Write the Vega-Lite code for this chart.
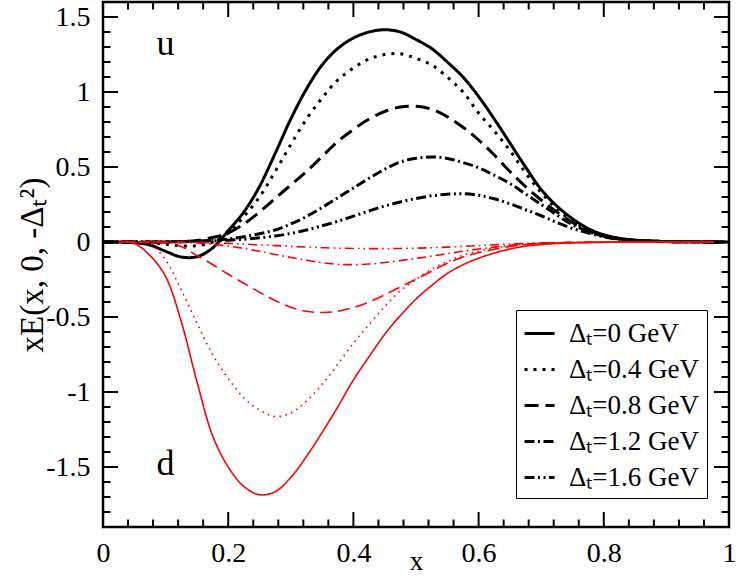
{
"$schema":"https://vega.github.io/schema/vega-lite/v6.json",
"autosize":{"type":"none"},
"padding":{"left":103,"top":2,"right":8,"bottom":51},
"width":626,"height":525,
"config":{"view":{"stroke":"black","strokeWidth":2.5},"font":"Liberation Serif","axis":{"grid":false,"domain":false,"ticks":false,"labelColor":"black","titleColor":"black","labelFont":"Liberation Serif","titleFont":"Liberation Serif","titleFontWeight":"normal"}},
"datasets":{
"curves":[
{"q":"u","D":"0","x":0,"y":0},{"q":"u","D":"0","x":0.025,"y":0},{"q":"u","D":"0","x":0.05,"y":-0.005},{"q":"u","D":"0","x":0.075,"y":-0.02},{"q":"u","D":"0","x":0.1,"y":-0.062},{"q":"u","D":"0","x":0.125,"y":-0.1},{"q":"u","D":"0","x":0.15,"y":-0.098},{"q":"u","D":"0","x":0.175,"y":-0.04},{"q":"u","D":"0","x":0.2,"y":0.075},{"q":"u","D":"0","x":0.225,"y":0.2},{"q":"u","D":"0","x":0.25,"y":0.37},{"q":"u","D":"0","x":0.275,"y":0.59},{"q":"u","D":"0","x":0.3,"y":0.82},{"q":"u","D":"0","x":0.325,"y":1.02},{"q":"u","D":"0","x":0.35,"y":1.18},{"q":"u","D":"0","x":0.375,"y":1.29},{"q":"u","D":"0","x":0.4,"y":1.36},{"q":"u","D":"0","x":0.425,"y":1.4},{"q":"u","D":"0","x":0.45,"y":1.415},{"q":"u","D":"0","x":0.475,"y":1.4},{"q":"u","D":"0","x":0.5,"y":1.35},{"q":"u","D":"0","x":0.525,"y":1.29},{"q":"u","D":"0","x":0.55,"y":1.2},{"q":"u","D":"0","x":0.575,"y":1.1},{"q":"u","D":"0","x":0.6,"y":0.97},{"q":"u","D":"0","x":0.625,"y":0.82},{"q":"u","D":"0","x":0.65,"y":0.66},{"q":"u","D":"0","x":0.675,"y":0.5},{"q":"u","D":"0","x":0.7,"y":0.35},{"q":"u","D":"0","x":0.725,"y":0.24},{"q":"u","D":"0","x":0.75,"y":0.155},{"q":"u","D":"0","x":0.775,"y":0.09},{"q":"u","D":"0","x":0.8,"y":0.048},{"q":"u","D":"0","x":0.825,"y":0.025},{"q":"u","D":"0","x":0.85,"y":0.012},{"q":"u","D":"0","x":0.9,"y":0.003},{"q":"u","D":"0","x":0.95,"y":0.001},{"q":"u","D":"0","x":1,"y":0},
{"q":"u","D":"0.4","x":0,"y":0},{"q":"u","D":"0.4","x":0.025,"y":0},{"q":"u","D":"0.4","x":0.05,"y":0},{"q":"u","D":"0.4","x":0.075,"y":-0.005},{"q":"u","D":"0.4","x":0.1,"y":-0.015},{"q":"u","D":"0.4","x":0.125,"y":-0.025},{"q":"u","D":"0.4","x":0.15,"y":-0.025},{"q":"u","D":"0.4","x":0.175,"y":0},{"q":"u","D":"0.4","x":0.2,"y":0.06},{"q":"u","D":"0.4","x":0.225,"y":0.17},{"q":"u","D":"0.4","x":0.25,"y":0.3},{"q":"u","D":"0.4","x":0.275,"y":0.47},{"q":"u","D":"0.4","x":0.3,"y":0.65},{"q":"u","D":"0.4","x":0.325,"y":0.82},{"q":"u","D":"0.4","x":0.35,"y":0.96},{"q":"u","D":"0.4","x":0.375,"y":1.08},{"q":"u","D":"0.4","x":0.4,"y":1.16},{"q":"u","D":"0.4","x":0.425,"y":1.22},{"q":"u","D":"0.4","x":0.45,"y":1.25},{"q":"u","D":"0.4","x":0.475,"y":1.255},{"q":"u","D":"0.4","x":0.5,"y":1.225},{"q":"u","D":"0.4","x":0.525,"y":1.18},{"q":"u","D":"0.4","x":0.55,"y":1.1},{"q":"u","D":"0.4","x":0.575,"y":1.0},{"q":"u","D":"0.4","x":0.6,"y":0.86},{"q":"u","D":"0.4","x":0.625,"y":0.74},{"q":"u","D":"0.4","x":0.65,"y":0.61},{"q":"u","D":"0.4","x":0.675,"y":0.46},{"q":"u","D":"0.4","x":0.7,"y":0.33},{"q":"u","D":"0.4","x":0.725,"y":0.22},{"q":"u","D":"0.4","x":0.75,"y":0.14},{"q":"u","D":"0.4","x":0.775,"y":0.08},{"q":"u","D":"0.4","x":0.8,"y":0.04},{"q":"u","D":"0.4","x":0.825,"y":0.02},{"q":"u","D":"0.4","x":0.85,"y":0.01},{"q":"u","D":"0.4","x":0.9,"y":0.003},{"q":"u","D":"0.4","x":0.95,"y":0.001},{"q":"u","D":"0.4","x":1,"y":0},
{"q":"u","D":"0.8","x":0,"y":0},{"q":"u","D":"0.8","x":0.025,"y":0},{"q":"u","D":"0.8","x":0.05,"y":0},{"q":"u","D":"0.8","x":0.075,"y":0},{"q":"u","D":"0.8","x":0.1,"y":0},{"q":"u","D":"0.8","x":0.125,"y":0.003},{"q":"u","D":"0.8","x":0.15,"y":0.01},{"q":"u","D":"0.8","x":0.175,"y":0.03},{"q":"u","D":"0.8","x":0.2,"y":0.06},{"q":"u","D":"0.8","x":0.225,"y":0.12},{"q":"u","D":"0.8","x":0.25,"y":0.2},{"q":"u","D":"0.8","x":0.275,"y":0.29},{"q":"u","D":"0.8","x":0.3,"y":0.38},{"q":"u","D":"0.8","x":0.325,"y":0.47},{"q":"u","D":"0.8","x":0.35,"y":0.57},{"q":"u","D":"0.8","x":0.375,"y":0.67},{"q":"u","D":"0.8","x":0.4,"y":0.75},{"q":"u","D":"0.8","x":0.425,"y":0.82},{"q":"u","D":"0.8","x":0.45,"y":0.87},{"q":"u","D":"0.8","x":0.475,"y":0.9},{"q":"u","D":"0.8","x":0.5,"y":0.905},{"q":"u","D":"0.8","x":0.525,"y":0.885},{"q":"u","D":"0.8","x":0.55,"y":0.835},{"q":"u","D":"0.8","x":0.575,"y":0.765},{"q":"u","D":"0.8","x":0.6,"y":0.68},{"q":"u","D":"0.8","x":0.625,"y":0.58},{"q":"u","D":"0.8","x":0.65,"y":0.47},{"q":"u","D":"0.8","x":0.675,"y":0.37},{"q":"u","D":"0.8","x":0.7,"y":0.28},{"q":"u","D":"0.8","x":0.725,"y":0.2},{"q":"u","D":"0.8","x":0.75,"y":0.13},{"q":"u","D":"0.8","x":0.775,"y":0.08},{"q":"u","D":"0.8","x":0.8,"y":0.045},{"q":"u","D":"0.8","x":0.825,"y":0.022},{"q":"u","D":"0.8","x":0.85,"y":0.011},{"q":"u","D":"0.8","x":0.9,"y":0.003},{"q":"u","D":"0.8","x":0.95,"y":0.001},{"q":"u","D":"0.8","x":1,"y":0},
{"q":"u","D":"1.2","x":0,"y":0},{"q":"u","D":"1.2","x":0.025,"y":0},{"q":"u","D":"1.2","x":0.05,"y":0},{"q":"u","D":"1.2","x":0.075,"y":0},{"q":"u","D":"1.2","x":0.1,"y":0},{"q":"u","D":"1.2","x":0.125,"y":0.002},{"q":"u","D":"1.2","x":0.15,"y":0.005},{"q":"u","D":"1.2","x":0.175,"y":0.012},{"q":"u","D":"1.2","x":0.2,"y":0.02},{"q":"u","D":"1.2","x":0.225,"y":0.035},{"q":"u","D":"1.2","x":0.25,"y":0.055},{"q":"u","D":"1.2","x":0.275,"y":0.08},{"q":"u","D":"1.2","x":0.3,"y":0.12},{"q":"u","D":"1.2","x":0.325,"y":0.17},{"q":"u","D":"1.2","x":0.35,"y":0.23},{"q":"u","D":"1.2","x":0.375,"y":0.295},{"q":"u","D":"1.2","x":0.4,"y":0.36},{"q":"u","D":"1.2","x":0.425,"y":0.425},{"q":"u","D":"1.2","x":0.45,"y":0.485},{"q":"u","D":"1.2","x":0.475,"y":0.533},{"q":"u","D":"1.2","x":0.5,"y":0.558},{"q":"u","D":"1.2","x":0.525,"y":0.567},{"q":"u","D":"1.2","x":0.55,"y":0.557},{"q":"u","D":"1.2","x":0.575,"y":0.53},{"q":"u","D":"1.2","x":0.6,"y":0.495},{"q":"u","D":"1.2","x":0.625,"y":0.445},{"q":"u","D":"1.2","x":0.65,"y":0.39},{"q":"u","D":"1.2","x":0.675,"y":0.32},{"q":"u","D":"1.2","x":0.7,"y":0.25},{"q":"u","D":"1.2","x":0.725,"y":0.18},{"q":"u","D":"1.2","x":0.75,"y":0.115},{"q":"u","D":"1.2","x":0.775,"y":0.07},{"q":"u","D":"1.2","x":0.8,"y":0.038},{"q":"u","D":"1.2","x":0.825,"y":0.02},{"q":"u","D":"1.2","x":0.85,"y":0.01},{"q":"u","D":"1.2","x":0.9,"y":0.003},{"q":"u","D":"1.2","x":0.95,"y":0.001},{"q":"u","D":"1.2","x":1,"y":0},
{"q":"u","D":"1.6","x":0,"y":0},{"q":"u","D":"1.6","x":0.025,"y":0},{"q":"u","D":"1.6","x":0.05,"y":0},{"q":"u","D":"1.6","x":0.075,"y":0},{"q":"u","D":"1.6","x":0.1,"y":0.001},{"q":"u","D":"1.6","x":0.125,"y":0.002},{"q":"u","D":"1.6","x":0.15,"y":0.005},{"q":"u","D":"1.6","x":0.175,"y":0.008},{"q":"u","D":"1.6","x":0.2,"y":0.012},{"q":"u","D":"1.6","x":0.225,"y":0.018},{"q":"u","D":"1.6","x":0.25,"y":0.028},{"q":"u","D":"1.6","x":0.275,"y":0.04},{"q":"u","D":"1.6","x":0.3,"y":0.057},{"q":"u","D":"1.6","x":0.325,"y":0.08},{"q":"u","D":"1.6","x":0.35,"y":0.108},{"q":"u","D":"1.6","x":0.375,"y":0.138},{"q":"u","D":"1.6","x":0.4,"y":0.172},{"q":"u","D":"1.6","x":0.425,"y":0.207},{"q":"u","D":"1.6","x":0.45,"y":0.24},{"q":"u","D":"1.6","x":0.475,"y":0.267},{"q":"u","D":"1.6","x":0.5,"y":0.29},{"q":"u","D":"1.6","x":0.525,"y":0.308},{"q":"u","D":"1.6","x":0.55,"y":0.318},{"q":"u","D":"1.6","x":0.575,"y":0.322},{"q":"u","D":"1.6","x":0.6,"y":0.312},{"q":"u","D":"1.6","x":0.625,"y":0.288},{"q":"u","D":"1.6","x":0.65,"y":0.255},{"q":"u","D":"1.6","x":0.675,"y":0.215},{"q":"u","D":"1.6","x":0.7,"y":0.175},{"q":"u","D":"1.6","x":0.725,"y":0.13},{"q":"u","D":"1.6","x":0.75,"y":0.09},{"q":"u","D":"1.6","x":0.775,"y":0.06},{"q":"u","D":"1.6","x":0.8,"y":0.035},{"q":"u","D":"1.6","x":0.825,"y":0.018},{"q":"u","D":"1.6","x":0.85,"y":0.009},{"q":"u","D":"1.6","x":0.9,"y":0.002},{"q":"u","D":"1.6","x":0.95,"y":0.001},{"q":"u","D":"1.6","x":1,"y":0},
{"q":"d","D":"0","x":0,"y":0},{"q":"d","D":"0","x":0.025,"y":0},{"q":"d","D":"0","x":0.05,"y":-0.01},{"q":"d","D":"0","x":0.075,"y":-0.09},{"q":"d","D":"0","x":0.1,"y":-0.23},{"q":"d","D":"0","x":0.125,"y":-0.53},{"q":"d","D":"0","x":0.15,"y":-0.93},{"q":"d","D":"0","x":0.175,"y":-1.29},{"q":"d","D":"0","x":0.2,"y":-1.5},{"q":"d","D":"0","x":0.225,"y":-1.63},{"q":"d","D":"0","x":0.25,"y":-1.685},{"q":"d","D":"0","x":0.275,"y":-1.665},{"q":"d","D":"0","x":0.3,"y":-1.57},{"q":"d","D":"0","x":0.325,"y":-1.43},{"q":"d","D":"0","x":0.35,"y":-1.27},{"q":"d","D":"0","x":0.375,"y":-1.1},{"q":"d","D":"0","x":0.4,"y":-0.92},{"q":"d","D":"0","x":0.425,"y":-0.765},{"q":"d","D":"0","x":0.45,"y":-0.615},{"q":"d","D":"0","x":0.475,"y":-0.49},{"q":"d","D":"0","x":0.5,"y":-0.38},{"q":"d","D":"0","x":0.525,"y":-0.29},{"q":"d","D":"0","x":0.55,"y":-0.21},{"q":"d","D":"0","x":0.575,"y":-0.152},{"q":"d","D":"0","x":0.6,"y":-0.108},{"q":"d","D":"0","x":0.625,"y":-0.074},{"q":"d","D":"0","x":0.65,"y":-0.047},{"q":"d","D":"0","x":0.675,"y":-0.028},{"q":"d","D":"0","x":0.7,"y":-0.017},{"q":"d","D":"0","x":0.725,"y":-0.01},{"q":"d","D":"0","x":0.75,"y":-0.006},{"q":"d","D":"0","x":0.775,"y":-0.004},{"q":"d","D":"0","x":0.8,"y":-0.002},{"q":"d","D":"0","x":0.825,"y":-0.001},{"q":"d","D":"0","x":0.85,"y":0},{"q":"d","D":"0","x":0.9,"y":0},{"q":"d","D":"0","x":0.95,"y":0},{"q":"d","D":"0","x":1,"y":0},
{"q":"d","D":"0.4","x":0,"y":0},{"q":"d","D":"0.4","x":0.025,"y":0},{"q":"d","D":"0.4","x":0.05,"y":0},{"q":"d","D":"0.4","x":0.075,"y":-0.015},{"q":"d","D":"0.4","x":0.1,"y":-0.12},{"q":"d","D":"0.4","x":0.125,"y":-0.32},{"q":"d","D":"0.4","x":0.15,"y":-0.54},{"q":"d","D":"0.4","x":0.175,"y":-0.75},{"q":"d","D":"0.4","x":0.2,"y":-0.91},{"q":"d","D":"0.4","x":0.225,"y":-1.04},{"q":"d","D":"0.4","x":0.25,"y":-1.12},{"q":"d","D":"0.4","x":0.275,"y":-1.163},{"q":"d","D":"0.4","x":0.3,"y":-1.14},{"q":"d","D":"0.4","x":0.325,"y":-1.06},{"q":"d","D":"0.4","x":0.35,"y":-0.95},{"q":"d","D":"0.4","x":0.375,"y":-0.815},{"q":"d","D":"0.4","x":0.4,"y":-0.675},{"q":"d","D":"0.4","x":0.425,"y":-0.55},{"q":"d","D":"0.4","x":0.45,"y":-0.43},{"q":"d","D":"0.4","x":0.475,"y":-0.325},{"q":"d","D":"0.4","x":0.5,"y":-0.25},{"q":"d","D":"0.4","x":0.525,"y":-0.18},{"q":"d","D":"0.4","x":0.55,"y":-0.13},{"q":"d","D":"0.4","x":0.575,"y":-0.088},{"q":"d","D":"0.4","x":0.6,"y":-0.06},{"q":"d","D":"0.4","x":0.625,"y":-0.04},{"q":"d","D":"0.4","x":0.65,"y":-0.025},{"q":"d","D":"0.4","x":0.675,"y":-0.015},{"q":"d","D":"0.4","x":0.7,"y":-0.01},{"q":"d","D":"0.4","x":0.725,"y":-0.006},{"q":"d","D":"0.4","x":0.75,"y":-0.004},{"q":"d","D":"0.4","x":0.775,"y":-0.002},{"q":"d","D":"0.4","x":0.8,"y":-0.001},{"q":"d","D":"0.4","x":0.825,"y":0},{"q":"d","D":"0.4","x":0.85,"y":0},{"q":"d","D":"0.4","x":0.9,"y":0},{"q":"d","D":"0.4","x":0.95,"y":0},{"q":"d","D":"0.4","x":1,"y":0},
{"q":"d","D":"0.8","x":0,"y":0},{"q":"d","D":"0.8","x":0.025,"y":0},{"q":"d","D":"0.8","x":0.05,"y":0},{"q":"d","D":"0.8","x":0.075,"y":0},{"q":"d","D":"0.8","x":0.1,"y":-0.005},{"q":"d","D":"0.8","x":0.125,"y":-0.03},{"q":"d","D":"0.8","x":0.15,"y":-0.09},{"q":"d","D":"0.8","x":0.175,"y":-0.15},{"q":"d","D":"0.8","x":0.2,"y":-0.215},{"q":"d","D":"0.8","x":0.225,"y":-0.275},{"q":"d","D":"0.8","x":0.25,"y":-0.335},{"q":"d","D":"0.8","x":0.275,"y":-0.39},{"q":"d","D":"0.8","x":0.3,"y":-0.435},{"q":"d","D":"0.8","x":0.325,"y":-0.462},{"q":"d","D":"0.8","x":0.35,"y":-0.47},{"q":"d","D":"0.8","x":0.375,"y":-0.462},{"q":"d","D":"0.8","x":0.4,"y":-0.437},{"q":"d","D":"0.8","x":0.425,"y":-0.4},{"q":"d","D":"0.8","x":0.45,"y":-0.352},{"q":"d","D":"0.8","x":0.475,"y":-0.3},{"q":"d","D":"0.8","x":0.5,"y":-0.248},{"q":"d","D":"0.8","x":0.525,"y":-0.195},{"q":"d","D":"0.8","x":0.55,"y":-0.142},{"q":"d","D":"0.8","x":0.575,"y":-0.1},{"q":"d","D":"0.8","x":0.6,"y":-0.072},{"q":"d","D":"0.8","x":0.625,"y":-0.048},{"q":"d","D":"0.8","x":0.65,"y":-0.03},{"q":"d","D":"0.8","x":0.675,"y":-0.018},{"q":"d","D":"0.8","x":0.7,"y":-0.01},{"q":"d","D":"0.8","x":0.725,"y":-0.006},{"q":"d","D":"0.8","x":0.75,"y":-0.004},{"q":"d","D":"0.8","x":0.775,"y":-0.002},{"q":"d","D":"0.8","x":0.8,"y":-0.001},{"q":"d","D":"0.8","x":0.825,"y":0},{"q":"d","D":"0.8","x":0.85,"y":0},{"q":"d","D":"0.8","x":0.9,"y":0},{"q":"d","D":"0.8","x":0.95,"y":0},{"q":"d","D":"0.8","x":1,"y":0},
{"q":"d","D":"1.2","x":0,"y":0},{"q":"d","D":"1.2","x":0.025,"y":0},{"q":"d","D":"1.2","x":0.05,"y":0},{"q":"d","D":"1.2","x":0.075,"y":0},{"q":"d","D":"1.2","x":0.1,"y":0},{"q":"d","D":"1.2","x":0.125,"y":-0.002},{"q":"d","D":"1.2","x":0.15,"y":-0.006},{"q":"d","D":"1.2","x":0.175,"y":-0.015},{"q":"d","D":"1.2","x":0.2,"y":-0.027},{"q":"d","D":"1.2","x":0.225,"y":-0.043},{"q":"d","D":"1.2","x":0.25,"y":-0.062},{"q":"d","D":"1.2","x":0.275,"y":-0.083},{"q":"d","D":"1.2","x":0.3,"y":-0.103},{"q":"d","D":"1.2","x":0.325,"y":-0.122},{"q":"d","D":"1.2","x":0.35,"y":-0.138},{"q":"d","D":"1.2","x":0.375,"y":-0.148},{"q":"d","D":"1.2","x":0.4,"y":-0.151},{"q":"d","D":"1.2","x":0.425,"y":-0.147},{"q":"d","D":"1.2","x":0.45,"y":-0.137},{"q":"d","D":"1.2","x":0.475,"y":-0.124},{"q":"d","D":"1.2","x":0.5,"y":-0.11},{"q":"d","D":"1.2","x":0.525,"y":-0.094},{"q":"d","D":"1.2","x":0.55,"y":-0.078},{"q":"d","D":"1.2","x":0.575,"y":-0.061},{"q":"d","D":"1.2","x":0.6,"y":-0.047},{"q":"d","D":"1.2","x":0.625,"y":-0.034},{"q":"d","D":"1.2","x":0.65,"y":-0.022},{"q":"d","D":"1.2","x":0.675,"y":-0.014},{"q":"d","D":"1.2","x":0.7,"y":-0.008},{"q":"d","D":"1.2","x":0.725,"y":-0.005},{"q":"d","D":"1.2","x":0.75,"y":-0.003},{"q":"d","D":"1.2","x":0.775,"y":-0.001},{"q":"d","D":"1.2","x":0.8,"y":0},{"q":"d","D":"1.2","x":0.825,"y":0},{"q":"d","D":"1.2","x":0.85,"y":0},{"q":"d","D":"1.2","x":0.9,"y":0},{"q":"d","D":"1.2","x":0.95,"y":0},{"q":"d","D":"1.2","x":1,"y":0},
{"q":"d","D":"1.6","x":0,"y":0},{"q":"d","D":"1.6","x":0.025,"y":0},{"q":"d","D":"1.6","x":0.05,"y":0},{"q":"d","D":"1.6","x":0.075,"y":0},{"q":"d","D":"1.6","x":0.1,"y":0},{"q":"d","D":"1.6","x":0.125,"y":0},{"q":"d","D":"1.6","x":0.15,"y":-0.002},{"q":"d","D":"1.6","x":0.175,"y":-0.005},{"q":"d","D":"1.6","x":0.2,"y":-0.009},{"q":"d","D":"1.6","x":0.225,"y":-0.014},{"q":"d","D":"1.6","x":0.25,"y":-0.019},{"q":"d","D":"1.6","x":0.275,"y":-0.024},{"q":"d","D":"1.6","x":0.3,"y":-0.029},{"q":"d","D":"1.6","x":0.325,"y":-0.034},{"q":"d","D":"1.6","x":0.35,"y":-0.038},{"q":"d","D":"1.6","x":0.375,"y":-0.041},{"q":"d","D":"1.6","x":0.4,"y":-0.043},{"q":"d","D":"1.6","x":0.425,"y":-0.044},{"q":"d","D":"1.6","x":0.45,"y":-0.044},{"q":"d","D":"1.6","x":0.475,"y":-0.043},{"q":"d","D":"1.6","x":0.5,"y":-0.041},{"q":"d","D":"1.6","x":0.525,"y":-0.038},{"q":"d","D":"1.6","x":0.55,"y":-0.034},{"q":"d","D":"1.6","x":0.575,"y":-0.029},{"q":"d","D":"1.6","x":0.6,"y":-0.024},{"q":"d","D":"1.6","x":0.625,"y":-0.018},{"q":"d","D":"1.6","x":0.65,"y":-0.013},{"q":"d","D":"1.6","x":0.675,"y":-0.009},{"q":"d","D":"1.6","x":0.7,"y":-0.006},{"q":"d","D":"1.6","x":0.725,"y":-0.004},{"q":"d","D":"1.6","x":0.75,"y":-0.002},{"q":"d","D":"1.6","x":0.775,"y":-0.001},{"q":"d","D":"1.6","x":0.8,"y":0},{"q":"d","D":"1.6","x":0.825,"y":0},{"q":"d","D":"1.6","x":0.85,"y":0},{"q":"d","D":"1.6","x":0.9,"y":0},{"q":"d","D":"1.6","x":0.95,"y":0},{"q":"d","D":"1.6","x":1,"y":0}
],
"labels":[{"lab":"u","x":0.1,"y":1.25},{"lab":"d","x":0.1,"y":-1.556}],
"xmajor":[{"v":0.2},{"v":0.4},{"v":0.6},{"v":0.8}],
"xminor":[{"v":0.04},{"v":0.08},{"v":0.12},{"v":0.16},{"v":0.24},{"v":0.28},{"v":0.32},{"v":0.36},{"v":0.44},{"v":0.48},{"v":0.52},{"v":0.56},{"v":0.64},{"v":0.68},{"v":0.72},{"v":0.76},{"v":0.84},{"v":0.88},{"v":0.92},{"v":0.96}],
"ymajor":[{"v":-1.5},{"v":-1},{"v":-0.5},{"v":0},{"v":0.5},{"v":1},{"v":1.5}],
"yminor":[{"v":-1.8},{"v":-1.7},{"v":-1.6},{"v":-1.4},{"v":-1.3},{"v":-1.2},{"v":-1.1},{"v":-0.9},{"v":-0.8},{"v":-0.7},{"v":-0.6},{"v":-0.4},{"v":-0.3},{"v":-0.2},{"v":-0.1},{"v":0.1},{"v":0.2},{"v":0.3},{"v":0.4},{"v":0.6},{"v":0.7},{"v":0.8},{"v":0.9},{"v":1.1},{"v":1.2},{"v":1.3},{"v":1.4}]
},
"resolve":{"scale":{"strokeDash":"independent","strokeWidth":"independent"},"axis":{"x":"independent","y":"independent"}},
"layer":[
{"data":{"name":"curves"},"transform":[{"filter":"datum.q == 'u'"}],
"mark":{"type":"line","color":"black","interpolate":"catmull-rom","strokeCap":"butt"},
"encoding":{
"x":{"field":"x","type":"quantitative","scale":{"domain":[0,1],"nice":false,"zero":false},
"axis":{"orient":"bottom","title":"x","titleFontSize":27,"titlePadding":-19,"values":[0,0.2,0.4,0.6,0.8,1],
"labelExpr":"'' + datum.value","labelFontSize":28,"labelPadding":12,"labelFlush":false,"labelOverlap":false}},
"y":{"field":"y","type":"quantitative","scale":{"domain":[-1.9,1.6],"nice":false,"zero":false},
"axis":{"orient":"left","title":"xE(x, 0, -Δₜ²)","titleFontSize":33,"titlePadding":-4,"values":[-1.5,-1,-0.5,0,0.5,1,1.5],
"labelExpr":"'' + datum.value","labelFontSize":28,"labelPadding":13,"labelFlush":false,"labelOverlap":false}},
"strokeDash":{"field":"D","type":"ordinal","scale":{"domain":["0","0.4","0.8","1.2","1.6"],"range":[[1,0],[3,6],[14,7],[10,3.5,2,3.5],[10,3.5,2,3.5,2,3.5]]},
"legend":{"orient":"none","legendX":413,"legendY":308,"title":null,"symbolType":"stroke","symbolSize":900,"symbolStrokeColor":"black","labelFont":"Liberation Serif","labelFontSize":27,"labelColor":"black","labelOffset":13,"rowPadding":6,"padding":7,"strokeColor":"black","fillColor":"white","cornerRadius":0,"labelExpr":"'Δₜ=' + datum.label + ' GeV'"}},
"strokeWidth":{"field":"D","type":"ordinal","scale":{"domain":["0","0.4","0.8","1.2","1.6"],"range":[3,3,3.2,2,2]},
"legend":{"orient":"none","legendX":413,"legendY":308,"title":null,"symbolType":"stroke","symbolSize":900,"symbolStrokeColor":"black","labelFont":"Liberation Serif","labelFontSize":27,"labelColor":"black","labelOffset":13,"rowPadding":6,"padding":7,"strokeColor":"black","fillColor":"white","cornerRadius":0,"labelExpr":"'Δₜ=' + datum.label + ' GeV'"}}
}},
{"data":{"name":"curves"},"transform":[{"filter":"datum.q == 'd'"}],
"mark":{"type":"line","color":"#ff0000","strokeWidth":1.6,"interpolate":"catmull-rom","strokeCap":"butt"},
"encoding":{
"x":{"field":"x","type":"quantitative","axis":null},
"y":{"field":"y","type":"quantitative","axis":null},
"strokeDash":{"field":"D","type":"ordinal","scale":{"domain":["0","0.4","0.8","1.2","1.6"],"range":[[1,0],[1.6,4.4],[12,6],[9,4,1.6,4],[9,4,1.6,4,1.6,4]]},"legend":null}
}},
{"data":{"name":"labels"},
"mark":{"type":"text","font":"Liberation Serif","fontSize":36,"color":"black","align":"center","baseline":"alphabetic"},
"encoding":{
"x":{"field":"x","type":"quantitative","axis":null},
"y":{"field":"y","type":"quantitative","axis":null},
"text":{"field":"lab","type":"nominal"}
}},
{"data":{"name":"xmajor"},"mark":{"type":"tick","orient":"vertical","size":15,"thickness":2,"color":"black","opacity":1},
"encoding":{"x":{"field":"v","type":"quantitative","axis":null},"y":{"datum":-1.85,"type":"quantitative","axis":null}}},
{"data":{"name":"xmajor"},"mark":{"type":"tick","orient":"vertical","size":15,"thickness":2,"color":"black","opacity":1},
"encoding":{"x":{"field":"v","type":"quantitative","axis":null},"y":{"datum":1.55,"type":"quantitative","axis":null}}},
{"data":{"name":"xminor"},"mark":{"type":"tick","orient":"vertical","size":7.5,"thickness":2,"color":"black","opacity":1},
"encoding":{"x":{"field":"v","type":"quantitative","axis":null},"y":{"datum":-1.875,"type":"quantitative","axis":null}}},
{"data":{"name":"xminor"},"mark":{"type":"tick","orient":"vertical","size":7.5,"thickness":2,"color":"black","opacity":1},
"encoding":{"x":{"field":"v","type":"quantitative","axis":null},"y":{"datum":1.575,"type":"quantitative","axis":null}}},
{"data":{"name":"ymajor"},"mark":{"type":"tick","orient":"horizontal","size":15,"thickness":2,"color":"black","opacity":1},
"encoding":{"y":{"field":"v","type":"quantitative","axis":null},"x":{"datum":0.012,"type":"quantitative","axis":null}}},
{"data":{"name":"ymajor"},"mark":{"type":"tick","orient":"horizontal","size":15,"thickness":2,"color":"black","opacity":1},
"encoding":{"y":{"field":"v","type":"quantitative","axis":null},"x":{"datum":0.988,"type":"quantitative","axis":null}}},
{"data":{"name":"yminor"},"mark":{"type":"tick","orient":"horizontal","size":7.5,"thickness":2,"color":"black","opacity":1},
"encoding":{"y":{"field":"v","type":"quantitative","axis":null},"x":{"datum":0.006,"type":"quantitative","axis":null}}},
{"data":{"name":"yminor"},"mark":{"type":"tick","orient":"horizontal","size":7.5,"thickness":2,"color":"black","opacity":1},
"encoding":{"y":{"field":"v","type":"quantitative","axis":null},"x":{"datum":0.994,"type":"quantitative","axis":null}}}
]
}
